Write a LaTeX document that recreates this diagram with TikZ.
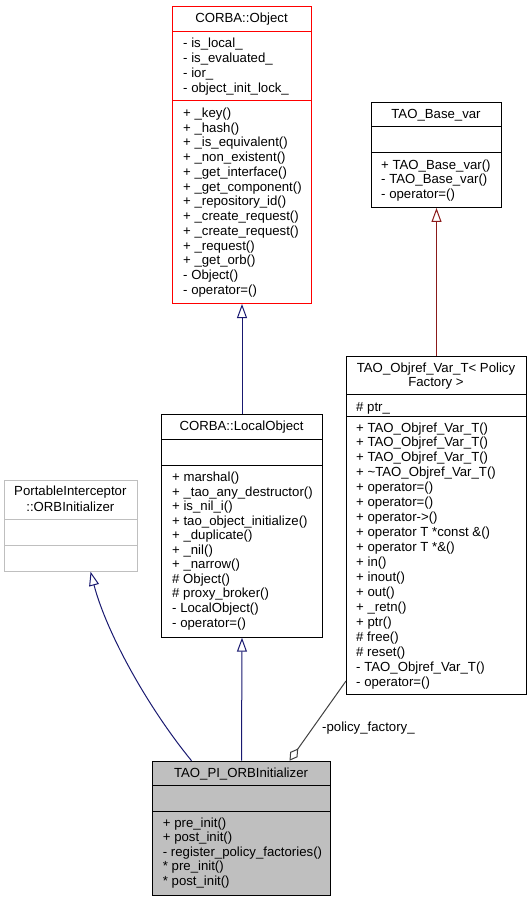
\documentclass[tikz,border=0pt]{standalone}
\usepackage{fontspec}
\setmainfont{Liberation Sans}
\usetikzlibrary{arrows.meta}
\definecolor{navyc}{HTML}{191970}
\definecolor{firec}{HTML}{8B1A1A}
\definecolor{aggc}{HTML}{404040}
\definecolor{grayb}{HTML}{BFBFBF}
\newcommand\fsz{\fontsize{13.2}{14.7}\selectfont}
\newcommand\mlist[5]{%
  \foreach [count=\i] \t in {#5} {\node[txt] (#1-\i) at ({#2},{#3+(\i-1)*#4}) {\t};}}
\tikzset{
  cls/.style={draw, line width=1pt, inner sep=0pt, anchor=north west, fill=white},
  sepline/.style={line width=1pt},
  txt/.style={anchor=base west, inner sep=0pt, font=\fsz},
  ttl/.style={anchor=base, inner sep=0pt, font=\fsz},
  inhnavy/.style={draw=navyc, line width=1pt, {Triangle[length=14pt,width=10pt,fill=white,line width=1pt]}-},
  inhfire/.style={draw=firec, line width=1pt, {Triangle[length=14pt,width=10pt,fill=white,line width=1pt]}-},
  aggline/.style={draw=aggc, line width=1pt, -{Diamond[length=15pt,width=9pt,fill=white,line width=1pt]}},
}
\begin{document}
\begin{tikzpicture}[x=1pt,y=-1pt]
\useasboundingbox (0,0) rectangle (532,901);
% CORBA::Object
\node[cls, draw=red, minimum width=139pt, minimum height=297pt] (obj) at (172,6) {};
\draw[sepline, red] (obj.west |- 0,32) -- (obj.east |- 0,32);
\draw[sepline, red] (obj.west |- 0,100.7) -- (obj.east |- 0,100.7);
\node[ttl] (obj-t) at (241.5,23) {CORBA::Object};
\mlist{obja}{183}{48}{14.7}{- is\_local\_, - is\_evaluated\_, - ior\_, - object\_init\_lock\_}
\mlist{objm}{183}{117.3}{14.75}{+ \_key(), + \_hash(), + \_is\_equivalent(), + \_non\_existent(), + \_get\_interface(), + \_get\_component(), + \_repository\_id(), + \_create\_request(), + \_create\_request(), + \_request(), + \_get\_orb(), - Object(), - operator=()}
% TAO_Base_var
\node[cls, minimum width=130pt, minimum height=105pt] (bv) at (371,102) {};
\draw[sepline] (bv.west |- 0,127) -- (bv.east |- 0,127);
\draw[sepline] (bv.west |- 0,152.7) -- (bv.east |- 0,152.7);
\node[ttl] (bv-t) at (436,118.4) {TAO\_Base\_var};
\mlist{bvm}{381}{169.5}{14.5}{+ TAO\_Base\_var(), - TAO\_Base\_var(), - operator=()}
% TAO_Objref_Var_T
\node[cls, minimum width=180pt, minimum height=338pt] (orv) at (346,356) {};
\draw[sepline] (orv.west |- 0,394.3) -- (orv.east |- 0,394.3);
\draw[sepline] (orv.west |- 0,416) -- (orv.east |- 0,416);
\node[ttl] (orv-t1) at (436,372.3) {TAO\_Objref\_Var\_T< Policy};
\node[ttl] (orv-t2) at (436,386.7) {Factory >};
\node[txt] (orv-a) at (356,411.3) {\# ptr\_};
\mlist{orvm}{356}{432}{14.95}{+ TAO\_Objref\_Var\_T(), + TAO\_Objref\_Var\_T(), + TAO\_Objref\_Var\_T(), + \textasciitilde TAO\_Objref\_Var\_T(), + operator=(), + operator=(), + operator->(), + operator T *const \&(), + operator T *\&(), + in(), + inout(), + out(), + \_retn(), + ptr(), \# free(), \# reset(), - TAO\_Objref\_Var\_T(), - operator=()}
% CORBA::LocalObject
\node[cls, minimum width=160.4pt, minimum height=222.7pt] (lo) at (161.3,414) {};
\draw[sepline] (lo.west |- 0,439.3) -- (lo.east |- 0,439.3);
\draw[sepline] (lo.west |- 0,465) -- (lo.east |- 0,465);
\node[ttl] (lo-t) at (241.5,430.5) {CORBA::LocalObject};
\mlist{lom}{172}{481.5}{14.55}{+ marshal(), + \_tao\_any\_destructor(), + is\_nil\_i(), + tao\_object\_initialize(), + \_duplicate(), + \_nil(), + \_narrow(), \# Object(), \# proxy\_broker(), - LocalObject(), - operator=()}
% PortableInterceptor::ORBInitializer
\node[cls, draw=grayb, minimum width=132.7pt, minimum height=90.7pt] (pi) at (4,480) {};
\draw[sepline, grayb] (pi.west |- 0,519.3) -- (pi.east |- 0,519.3);
\draw[sepline, grayb] (pi.west |- 0,545.3) -- (pi.east |- 0,545.3);
\node[ttl] (pi-t1) at (70.35,495.7) {PortableInterceptor};
\node[ttl] (pi-t2) at (70.35,511) {::ORBInitializer};
% TAO_PI_ORBInitializer
\node[cls, fill=grayb, minimum width=178pt, minimum height=134.3pt] (tao) at (152,760.7) {};
\draw[sepline] (tao.west |- 0,785.3) -- (tao.east |- 0,785.3);
\draw[sepline] (tao.west |- 0,811.3) -- (tao.east |- 0,811.3);
\node[ttl] (tao-t) at (241,777.3) {TAO\_PI\_ORBInitializer};
\mlist{taom}{162.7}{827}{14.5}{+ pre\_init(), + post\_init(), - register\_policy\_factories(), * pre\_init(), * post\_init()}
% connectors
\draw[inhnavy] (obj.south) -- (lo.north);
\draw[inhfire] (bv.south) -- (orv.north);
\draw[inhnavy] (lo.south) -- (tao.north);
\coordinate (pis) at ([xshift=19.7pt]pi.south);
\coordinate (taoa) at ([xshift=-50pt]tao.north);
\draw[inhnavy] (pis) .. controls (106,631) and (146,705) .. (taoa);
\coordinate (orvs) at ([yshift=14pt]orv.south west);
\coordinate (taob) at ([xshift=48pt]tao.north);
\draw[aggline] (orvs) -- (taob);
\node[txt] (agglbl) at (322,731) {-policy\_factory\_};
\end{tikzpicture}
\end{document}
